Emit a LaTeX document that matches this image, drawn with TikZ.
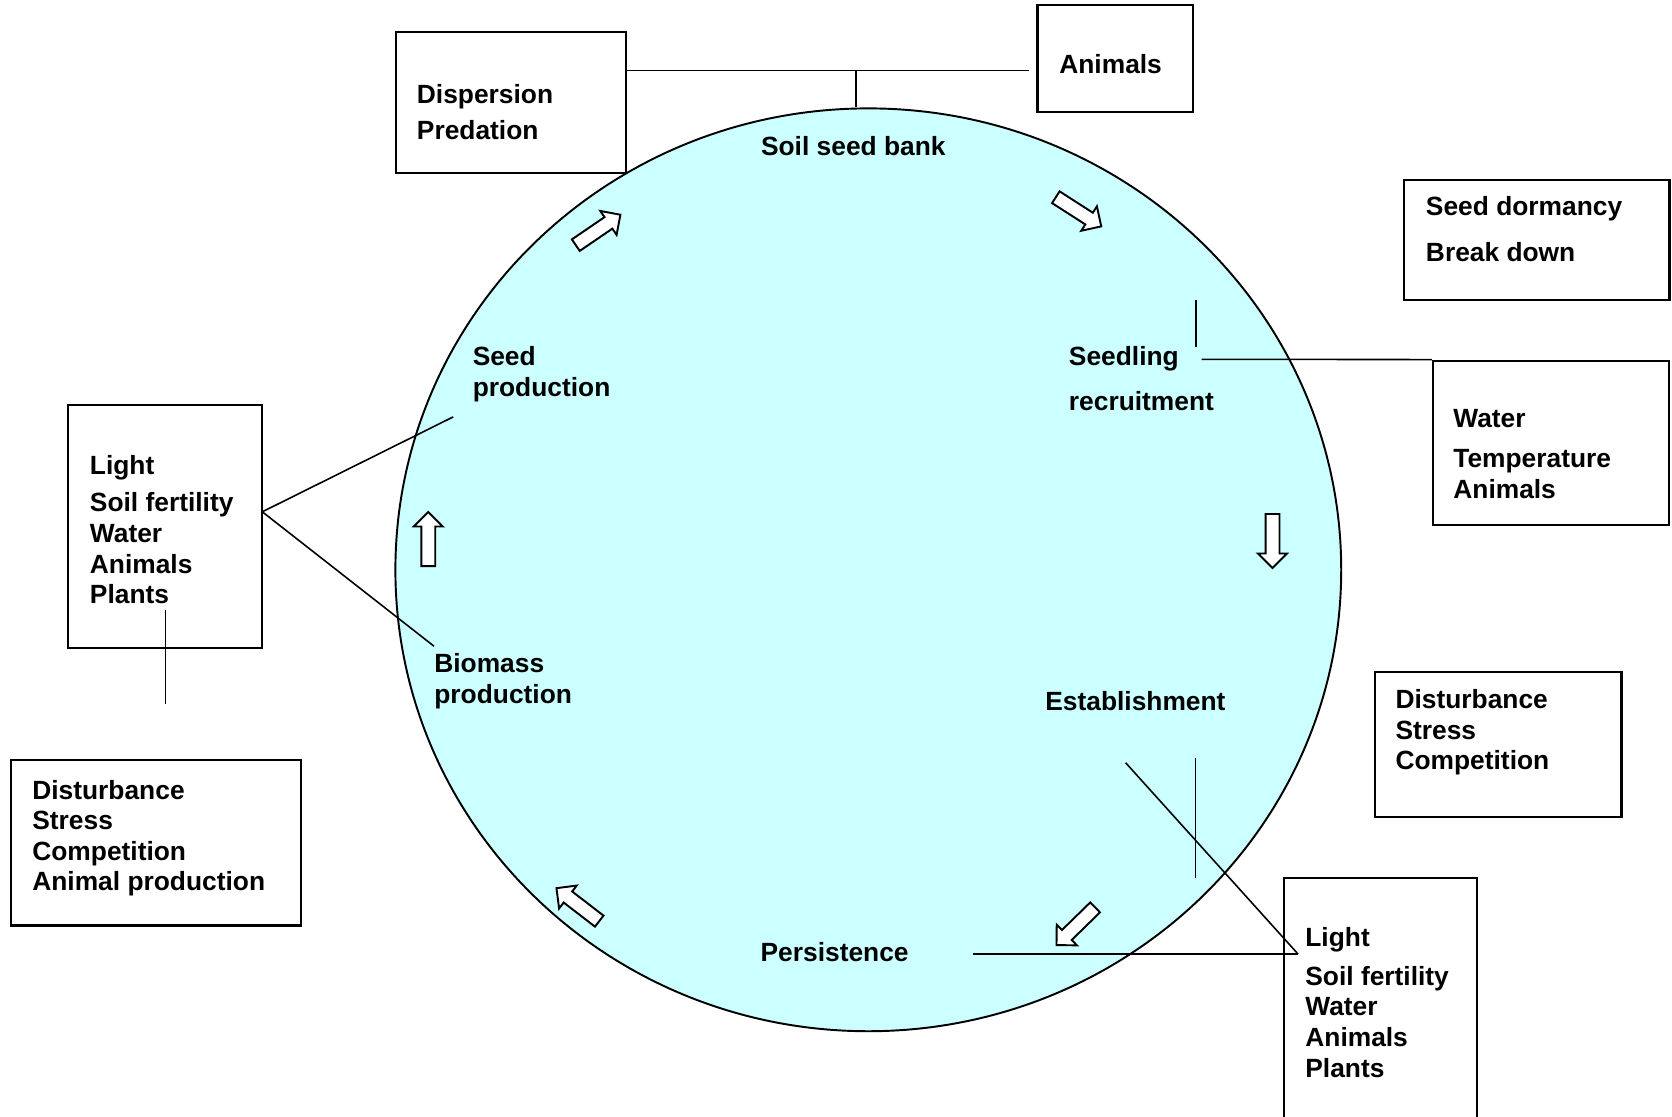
\documentclass[tikz,border=0pt]{standalone}
\usepackage{fontspec}
\setmainfont{Liberation Sans}
\usetikzlibrary{shapes.geometric,shapes.arrows,fit}
\definecolor{bankcyan}{RGB}{204,255,255}

\begin{document}
\begin{tikzpicture}[x=0.02cm, y=-0.02cm,
  box/.style={draw, line width=1.3pt, inner sep=0pt},
  lbl/.style={anchor=base west, inner sep=0pt, font=\fontsize{15}{18}\selectfont\bfseries},
  flow/.style={single arrow, draw, fill=white, line width=1.1pt, inner sep=0pt, inner ysep=0.12cm, minimum height=1.08cm, single arrow head extend=0.15cm, anchor=tail},
  link/.style={line width=0.9pt}]
        \useasboundingbox (0,0) rectangle (1672,1116);
        \clip (0,0) rectangle (1672,1116);

        \node[ellipse, draw, fill=bankcyan, line width=1.1pt, inner sep=0pt, minimum width=18.92cm, minimum height=18.46cm] (cycle) at (868.3,569.8) {};

        \node[box, fit={(395.7,31.7) (625.8,172.7)}]  (disp)   {};
        \node[box, fit={(1037.4,5) (1193,111.7)}]     (anim)   {};
        \node[box, fit={(1403.8,180) (1669.5,300)}]   (dorm)   {};
        \node[box, fit={(1432.9,360.7) (1668.7,525)}] (water)  {};
        \node[box, fit={(1375,671.7) (1621.5,816.7)}] (dstr)   {};
        \node[box, fit={(1283.7,877.7) (1477,1140)}]  (lightr) {};
        \node[box, fit={(68.2,405.2) (262.3,648.3)}]  (lightl) {};
        \node[box, fit={(10.7,760.3) (300.7,925.5)}]  (dstl)   {};

        \node[lbl] (d1)   at (416.6,103.3)  {Dispersion};
        \node[lbl] (d2)   at (416.6,139)    {Predation};
        \node[lbl] (a1)   at (1059,73.3)    {Animals};
        \node[lbl] (bank) at (760.7,155)    {Soil seed bank};
        \node[lbl] (sd1)  at (1425.6,215)   {Seed dormancy};
        \node[lbl] (sd2)  at (1425.6,261.7) {Break down};
        \node[lbl] (sr1)  at (1068.6,365)   {Seedling};
        \node[lbl] (sr2)  at (1068.6,410.5) {recruitment};
        \node[lbl] (w1)   at (1453,427.5)   {Water};
        \node[lbl] (w2)   at (1453,467.5)   {Temperature};
        \node[lbl] (w3)   at (1453,498)     {Animals};
        \node[lbl] (sp1)  at (472.4,365.6)  {Seed};
        \node[lbl] (sp2)  at (472.4,396.6)  {production};
        \node[lbl] (l1)   at (89.6,474.5)   {Light};
        \node[lbl] (l2)   at (89.6,511.7)   {Soil fertility};
        \node[lbl] (l3)   at (89.6,542.7)   {Water};
        \node[lbl] (l4)   at (89.6,573.6)   {Animals};
        \node[lbl] (l5)   at (89.6,603.4)   {Plants};
        \node[lbl] (bp1)  at (434,672.7)    {Biomass};
        \node[lbl] (bp2)  at (434,703.7)    {production};
        \node[lbl] (est)  at (1045,710.5)   {Establishment};
        \node[lbl] (s1)   at (1395.2,708)   {Disturbance};
        \node[lbl] (s2)   at (1395.2,739)   {Stress};
        \node[lbl] (s3)   at (1395.2,769.5) {Competition};
        \node[lbl] (t1)   at (32,799.6)     {Disturbance};
        \node[lbl] (t2)   at (32,829.5)     {Stress};
        \node[lbl] (t3)   at (32,860.4)     {Competition};
        \node[lbl] (t4)   at (32,890.2)     {Animal production};
        \node[lbl] (pers) at (760.3,961.7)  {Persistence};
        \node[lbl] (r1)   at (1305,946)     {Light};
        \node[lbl] (r2)   at (1305,985)     {Soil fertility};
        \node[lbl] (r3)   at (1305,1015.5)  {Water};
        \node[lbl] (r4)   at (1305,1046)    {Animals};
        \node[lbl] (r5)   at (1305,1077.3)  {Plants};

        \node[flow, rotate=34.3]   (f1) at (575,245.7)    {};
        \node[flow, rotate=-32.7]  (f2) at (1055,196.7)   {};
        \node[flow, rotate=-90]    (f3) at (1272.5,513)   {};
        \node[flow, rotate=-135.7] (f4) at (1095.8,906.7) {};
        \node[flow, rotate=142.4]  (f5) at (600,921.7)    {};
        \node[flow, rotate=90]     (f6) at (428.3,567)    {};

        \coordinate (jt)  at (856,70.7);
        \coordinate (ja)  at (1028.5,70.7);
        \coordinate (sv1) at (1196,300);
        \coordinate (sv2) at (1196,347.3);
        \coordinate (sh)  at (1201.5,359.3);
        \coordinate (lj)  at (262.3,511.8);
        \coordinate (spe) at (453.2,416.9);
        \coordinate (bpe) at (434,646.2);
        \coordinate (pv1) at (165.3,610);
        \coordinate (pv2) at (165.3,703.8);
        \coordinate (ev1) at (1195.5,758);
        \coordinate (ev2) at (1195.5,877.7);
        \coordinate (ed)  at (1125.6,762.7);
        \coordinate (pj)  at (1298,954);
        \coordinate (ph)  at (972.5,954);

        \path[link]
          (disp.east |- jt) edge (ja)
          (jt) edge (jt |- cycle.north)
          (sv1) edge (sv2)
          (sh) edge (water.north west)
          (lj) edge (spe)
          (lj) edge (bpe)
          (pv1) edge (pv2)
          (ev1) edge (ev2)
          (ed) edge (pj)
          (ph) edge (pj)
          ;
      \end{tikzpicture}
\end{document}
